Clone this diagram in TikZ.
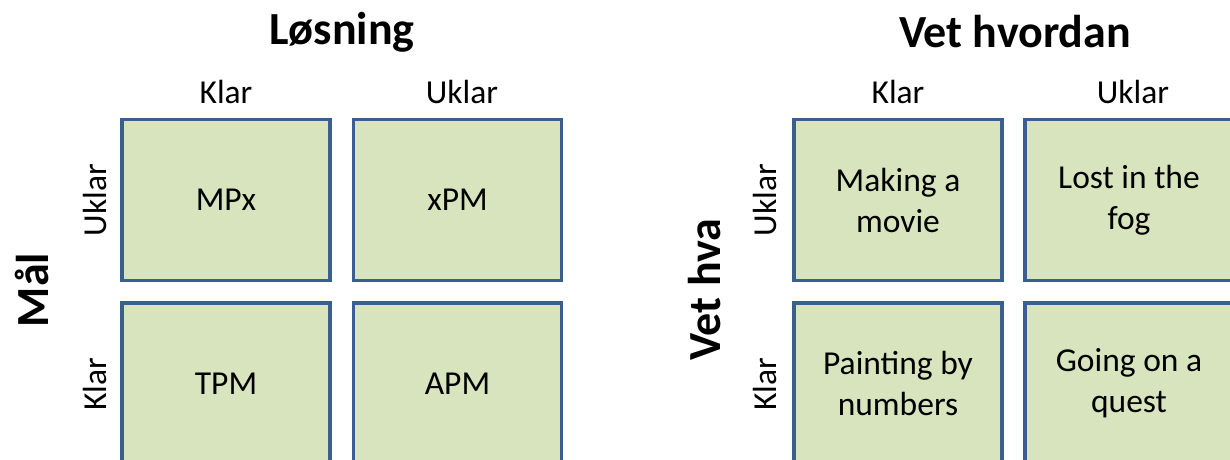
\documentclass[tikz,border=0pt]{standalone}
\usepackage{fontspec}
\setmainfont{Carlito}
\definecolor{boxfill}{HTML}{D7E4BD}
\definecolor{boxline}{HTML}{3A5F8F}
\begin{document}
\begin{tikzpicture}[x=1pt,y=-1pt,
  cell/.style={draw=boxline,fill=boxfill,line width=3.5pt,minimum width=208pt,minimum height=161pt,
    inner sep=0pt,align=center,font=\fontsize{33.5}{41}\selectfont},
  lab/.style={font=\fontsize{33.5}{40}\selectfont,inner sep=0pt},
  ttl/.style={font=\fontsize{46}{54}\selectfont\bfseries,inner sep=0pt}]
\useasboundingbox (0,0) rectangle (1230,459);
\clip (0,0) rectangle (1230,459);
% left grid
\node[cell] (a11) at (226,200) {MPx};
\node[cell] (a12) at (457.5,200) {xPM};
\node[cell] (a21) at (226,383.5) {TPM};
\node[cell] (a22) at (457.5,383.5) {APM};
\node[ttl] (lt) at (342,32) {Løsning};
\node[lab] (lk) at (226,92) {Klar};
\node[lab] (lu) at (462,92) {Uklar};
\node[lab,rotate=90] (lru) at (95,200) {Uklar};
\node[lab,rotate=90] (lrk) at (95,384) {Klar};
\node[ttl,rotate=90] (lm) at (32,290) {Mål};
% right grid
\node[cell] (b11) at (898,200) {Making a\\movie};
\node[cell] (b12) at (1129,200) {Lost in the\\fog};
\node[cell] (b21) at (898,383.5) {Painting by\\numbers};
\node[cell] (b22) at (1129,383.5) {Going on a\\quest};
\node[ttl] (rt) at (1015,32) {Vet hvordan};
\node[lab] (rk) at (898,92) {Klar};
\node[lab] (ru) at (1133,92) {Uklar};
\node[lab,rotate=90] (rru) at (765,200) {Uklar};
\node[lab,rotate=90] (rrk) at (765,384) {Klar};
\node[ttl,rotate=90] (rv) at (705,290) {Vet hva};
\end{tikzpicture}
\end{document}
